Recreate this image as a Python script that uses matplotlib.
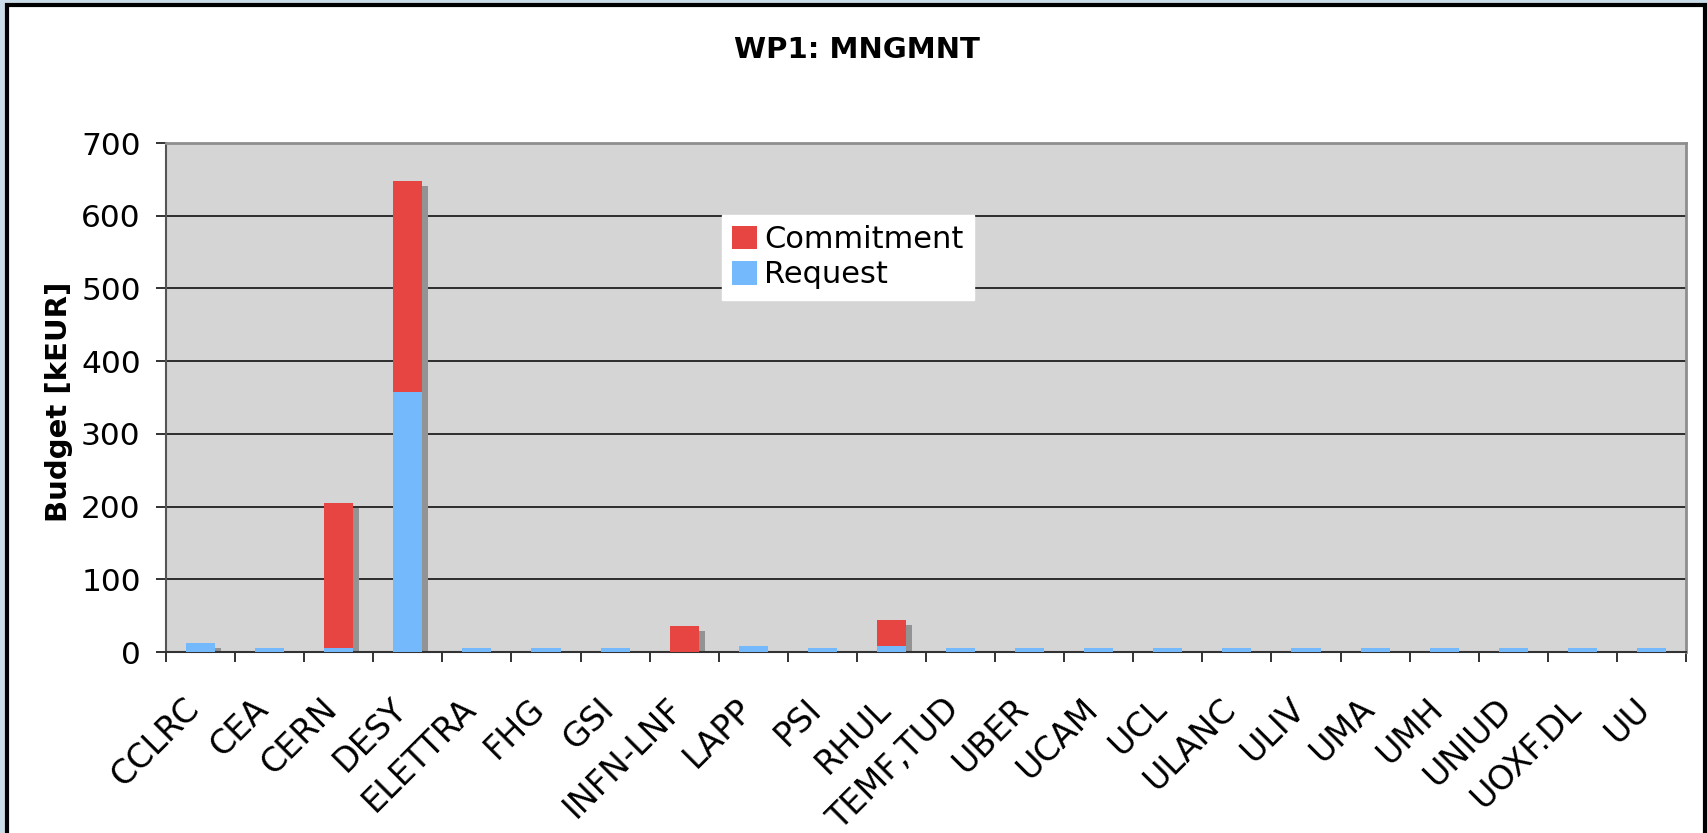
import matplotlib
matplotlib.use('Agg')
import matplotlib.pyplot as plt
import matplotlib.transforms as mtransforms
from matplotlib.patches import Rectangle
import numpy as np

# data
partners = ['CCLRC', 'CEA', 'CERN', 'DESY', 'ELETTRA', 'FHG', 'GSI', 'INFN-LNF',
            'LAPP', 'PSI', 'RHUL', 'TEMF,TUD', 'UBER', 'UCAM', 'UCL', 'ULANC',
            'ULIV', 'UMA', 'UMH', 'UNIUD', 'UOXF.DL', 'UU']
request = [12, 5, 5, 358, 5, 5, 5, 0, 8, 5, 8, 5, 5, 5, 5, 5, 5, 5, 5, 5, 5, 5]
commitment = [0, 0, 200, 290, 0, 0, 0, 36, 0, 0, 36, 0, 0, 0, 0, 0, 0, 0, 0, 0, 0, 0]

W, H = 1707, 833
fig = plt.figure(figsize=(W / 100, H / 100), dpi=100, facecolor='#c9dce8')

# white slide frame with black border
fig.patches.append(Rectangle((7 / W, -0.05), 1698 / W, 1 - 5 / H + 0.05,
                             transform=fig.transFigure, facecolor='white',
                             edgecolor='black', lw=3, zorder=-1))

ax = fig.add_axes([166 / W, 1 - 652 / H, 1520 / W, 509 / H])
ax.set_facecolor('#d5d5d5')

x = np.arange(len(partners))
total = np.array(request) + np.array(commitment)
width = 0.42

# drop shadow behind each stacked bar
shadow_tr = mtransforms.offset_copy(ax.transData, fig=fig, x=6, y=-5, units='dots')
ax.bar(x, total, width, color='#939393', transform=shadow_tr, zorder=2)

ax.bar(x, request, width, color='#75b9fd', label='Request', zorder=3)
ax.bar(x, commitment, width, bottom=request, color='#e64541', label='Commitment', zorder=3)

ax.set_ylim(0, 700)
ax.set_xlim(-0.5, len(partners) - 0.5)
ax.set_yticks(range(0, 701, 100))
ax.yaxis.grid(True, color='#111111', lw=1.2)
ax.set_axisbelow(True)

# category names, slanted, hanging below the axis
ax.set_xticks(np.arange(-0.5, len(partners)))
ax.set_xticklabels([])
lbl_tr = mtransforms.offset_copy(ax.get_xaxis_transform(), fig=fig,
                                 x=-18, y=-40, units='dots')
for xi, name in zip(x, partners):
    ax.text(xi, 0, name, transform=lbl_tr, rotation=45, ha='right', va='top',
            rotation_mode='anchor', fontsize=24, clip_on=False)

ax.tick_params(axis='x', length=7.2, width=1.3, color='#222222')
ax.tick_params(axis='y', length=7.2, width=1.3, labelsize=22.5, pad=11,
               color='#222222')

for side in ['top', 'right']:
    ax.spines[side].set_color('#8e8e8e')
    ax.spines[side].set_linewidth(2)
ax.spines['left'].set_color('#555555')
ax.spines['left'].set_linewidth(1.5)
ax.spines['bottom'].set_color('#333333')
ax.spines['bottom'].set_linewidth(1.5)

fig.text(59 / W, 1 - 402 / H, 'Budget [kEUR]', rotation=90, ha='center',
         va='center', fontsize=21, fontweight='bold')
fig.text(857 / W, 1 - 50 / H, 'WP1: MNGMNT', ha='center', va='center',
         fontsize=21, fontweight='bold')

handles, labels = ax.get_legend_handles_labels()
leg = ax.legend(handles[::-1], labels[::-1], loc='upper left',
                bbox_to_anchor=(0.366, 0.858), borderaxespad=0, fontsize=22,
                frameon=True, fancybox=False, framealpha=1, edgecolor='white',
                handlelength=0.8, handleheight=0.8, handletextpad=0.25,
                labelspacing=0.2, borderpad=0.33)

fig.savefig('out.png', dpi=100, facecolor=fig.get_facecolor())
